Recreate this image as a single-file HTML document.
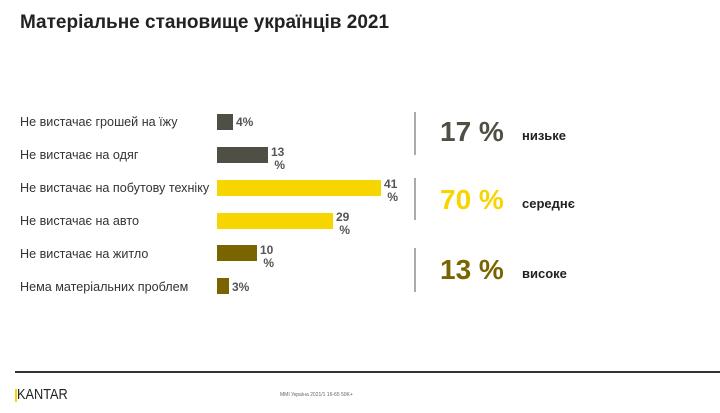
<!DOCTYPE html>
<html><head><meta charset="utf-8"><style>
body{margin:0;width:720px;height:413px;background:#fff;position:relative;overflow:hidden;font-family:"Liberation Sans",sans-serif;}
.a{position:absolute;white-space:nowrap}
.lbl{font-size:12.6px;color:#333;left:20px}
.bar{position:absolute;left:217px;height:16px}
.v{font-size:12px;font-weight:bold;color:#555;line-height:13px}
.big{font-size:28px;font-weight:bold}
.s{font-size:13px;font-weight:bold;color:#222}
.vl{position:absolute;left:414px;width:2px;background:#aaa}
</style></head><body>
<div class="a" style="left:20px;top:12px;font-size:19px;font-weight:bold;color:#222">Матеріальне становище українців 2021</div>
<div class="a lbl" style="top:115px">Не вистачає грошей на їжу</div>
<div class="a lbl" style="top:148px">Не вистачає на одяг</div>
<div class="a lbl" style="top:181px">Не вистачає на побутову техніку</div>
<div class="a lbl" style="top:214px">Не вистачає на авто</div>
<div class="a lbl" style="top:247px">Не вистачає на житло</div>
<div class="a lbl" style="top:280px">Нема матеріальних проблем</div>
<div class="bar" style="top:114px;width:16px;background:#4f4f45"></div>
<div class="bar" style="top:147px;width:51px;background:#4f4f45"></div>
<div class="bar" style="top:180px;width:164px;background:#f7d500"></div>
<div class="bar" style="top:213px;width:116px;background:#f7d500"></div>
<div class="bar" style="top:245px;width:40px;background:#7a6400"></div>
<div class="bar" style="top:278px;width:12px;background:#7a6400"></div>
<div class="a v" style="left:236px;top:116px">4%</div>
<div class="a v" style="left:271px;top:146px">13<br>&nbsp;%</div>
<div class="a v" style="left:384px;top:178px">41<br>&nbsp;%</div>
<div class="a v" style="left:336px;top:211px">29<br>&nbsp;%</div>
<div class="a v" style="left:260px;top:244px">10<br>&nbsp;%</div>
<div class="a v" style="left:232px;top:281px">3%</div>
<div class="vl" style="top:112px;height:43px"></div>
<div class="vl" style="top:178px;height:42px"></div>
<div class="vl" style="top:248px;height:44px"></div>
<div class="a big" style="left:440px;top:116px;color:#4f4f45">17 %</div>
<div class="a s" style="left:522px;top:128px">низьке</div>
<div class="a big" style="left:440px;top:184px;color:#f7d500">70 %</div>
<div class="a s" style="left:522px;top:196px">середнє</div>
<div class="a big" style="left:440px;top:254px;color:#7a6400">13 %</div>
<div class="a s" style="left:522px;top:266px">високе</div>
<div style="position:absolute;left:15px;top:371px;width:705px;height:2px;background:#333"></div>
<div class="a" style="left:17px;top:386px;font-size:15px;color:#222;transform:scaleX(0.85);transform-origin:left">KANTAR</div>
<div style="position:absolute;left:15px;top:389px;width:2px;height:13px;background:#f7d500"></div>
<div class="a" style="left:280px;top:392px;font-size:5px;color:#666">MMI Україна 2021/1 16-65 50K+</div>
</body></html>
